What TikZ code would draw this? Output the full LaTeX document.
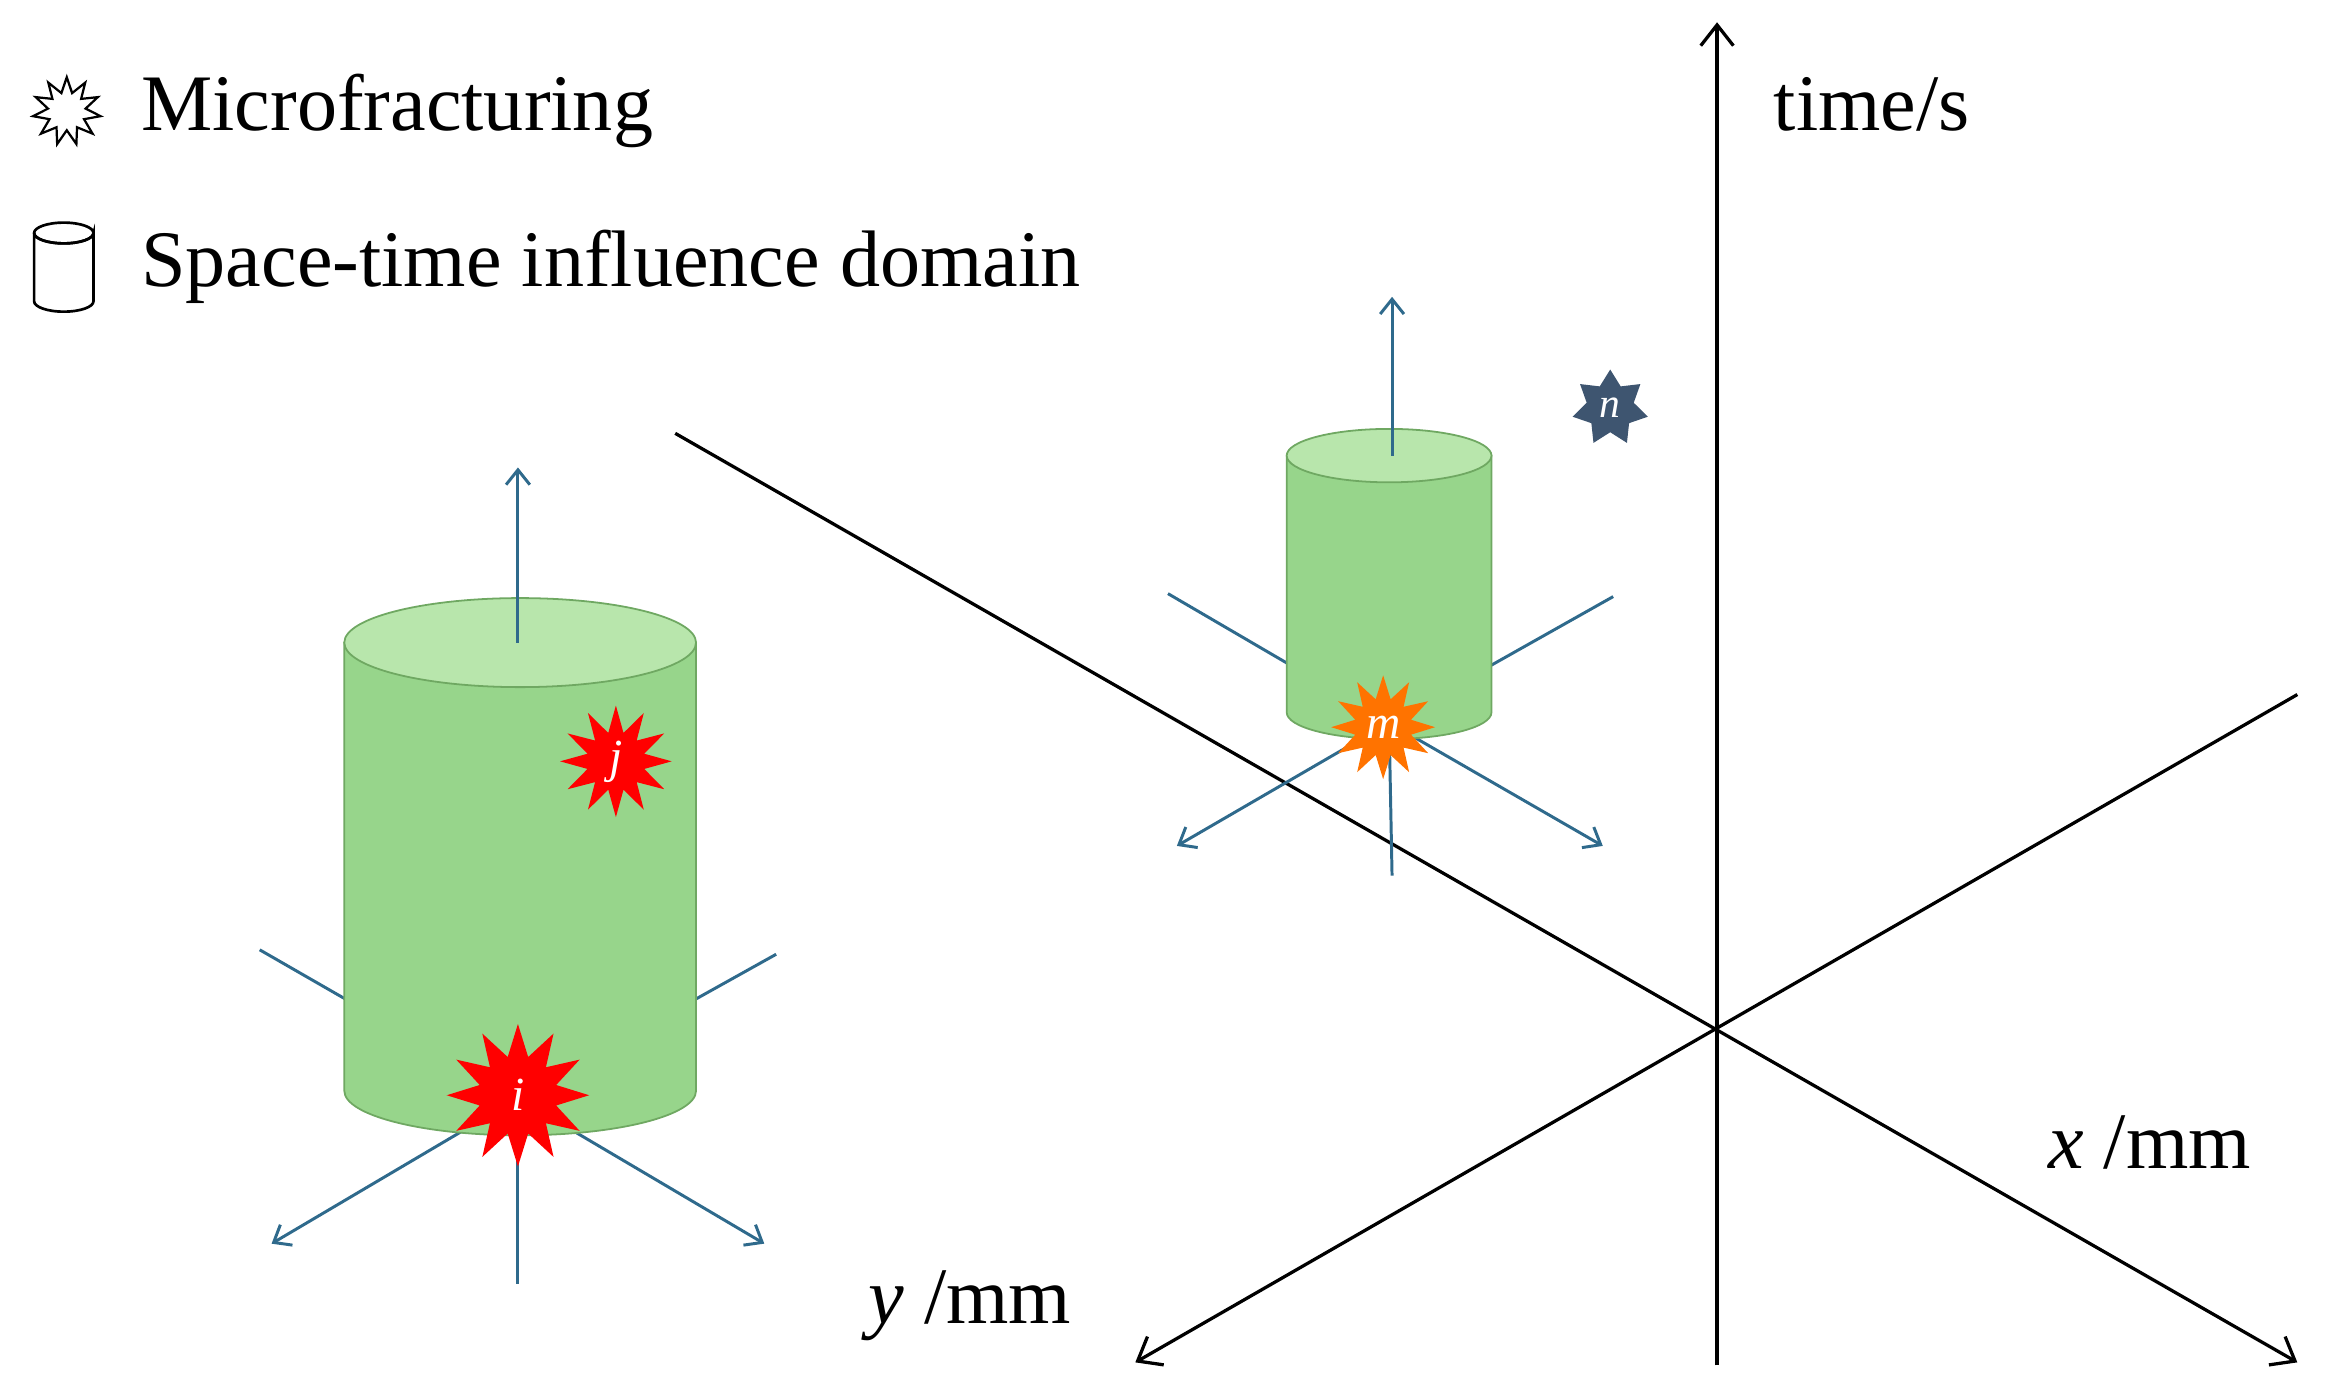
\documentclass[tikz,border=0pt]{standalone}
\usepackage{fontspec}
\setmainfont{Liberation Serif}
\usetikzlibrary{shapes.geometric,arrows.meta}
\definecolor{arr}{HTML}{2F6A8C}
\definecolor{cyl}{HTML}{97D58B}
\definecolor{cyltop}{HTML}{B8E6AC}
\definecolor{cyledge}{HTML}{6FA862}
\definecolor{nstar}{HTML}{3E5570}
\begin{document}
\begin{tikzpicture}[x=1pt,y=-1pt,
  ax/.style={line width=2.2pt,-{Straight Barb[length=14pt,width=22pt]}},
  ab/.style={arr,line width=2pt},
  aba/.style={ab,-{Straight Barb[length=10pt,width=16pt]}},
  lbl/.style={font=\fontsize{54}{56}\selectfont,anchor=west,inner sep=0},
  burst/.style={star,star points=12,star point ratio=1.8,inner sep=0,font=\fontsize{32}{32}\selectfont\itshape,text=white}]
\useasboundingbox (0,0) rectangle (1568,940);
% axes
\coordinate (O) at (1157,693);
\coordinate (tEnd) at (1157,15);
\coordinate (tBot) at (1157,920);
\coordinate (xA) at (455,292);
\coordinate (xB) at (1548,918);
\coordinate (yA) at (1548,468);
\coordinate (yB) at (765,918);
\draw[ax] (tBot) -- (tEnd);
\draw[ax] (xA) -- (xB);
\draw[ax] (yA) -- (yB);
\node[lbl] (tl) at (1195,70) {time/s};
\node[lbl] (xl) at (1380,770) {\textit{x} /mm};
\node[lbl] (yl) at (585,880) {\textit{y} /mm};
% legend
\node[star,star points=11,star point ratio=1.8,draw=black,line width=1.5pt,fill=white,minimum size=46pt,inner sep=0] (lg1) at (45,75) {};
\node[lbl] (l1) at (95,75) {Microfracturing};
\draw[line width=1.8pt,fill=white] (23,157) -- (23,203) arc[start angle=180,end angle=0,x radius=20,y radius=7] -- (63,157) arc[start angle=0,end angle=180,x radius=20,y radius=7];
\draw[line width=1.8pt] (43,157) ellipse[x radius=20,y radius=7];
\node[lbl] (l2) at (95,180) {Space-time influence domain};
% big cylinder domain
\coordinate (bc) at (349,740);
\coordinate (bt) at (349,315);
\coordinate (bb) at (349,865);
\draw[ab] (bb) -- (bc);
\draw[aba] (175,640) -- (bc) -- (515,838);
\draw[aba] (523,643) -- (bc) -- (183,838);
\fill[cyl,draw=cyledge,line width=1.2pt] (232,433) -- (232,735) arc[start angle=180,end angle=0,x radius=118.5,y radius=30] -- (469,433) -- cycle;
\fill[cyltop,draw=cyledge,line width=1.2pt] (350.5,433) ellipse[x radius=118.5,y radius=30];
\draw[aba] (349,433) -- (bt);
\node[burst,fill=red,minimum size=96pt] (i) at (349,738) {i};
\node[burst,fill=red,minimum size=70pt,star point ratio=1.9] (j) at (415,513) {j};
% small cylinder domain
\coordinate (sc) at (936,487);
\draw[ab] (938,590) -- (sc);
\draw[aba] (787,400) -- (sc) -- (1080,570);
\draw[aba] (1087,402) -- (sc) -- (793,570);
\fill[cyl,draw=cyledge,line width=1.2pt] (867,307) -- (867,480) arc[start angle=180,end angle=0,x radius=69,y radius=18] -- (1005,307) -- cycle;
\fill[cyltop,draw=cyledge,line width=1.2pt] (936,307) ellipse[x radius=69,y radius=18];
\draw[aba] (938,307) -- (938,200);
\node[burst,fill=orange!90!red,minimum size=70pt] (m) at (932,490) {m};
\node[star,star points=7,star point ratio=1.6,fill=nstar,minimum size=52pt,inner sep=0,font=\fontsize{28}{28}\selectfont\itshape,text=white] (n) at (1085,275) {n};
\end{tikzpicture}
\end{document}
